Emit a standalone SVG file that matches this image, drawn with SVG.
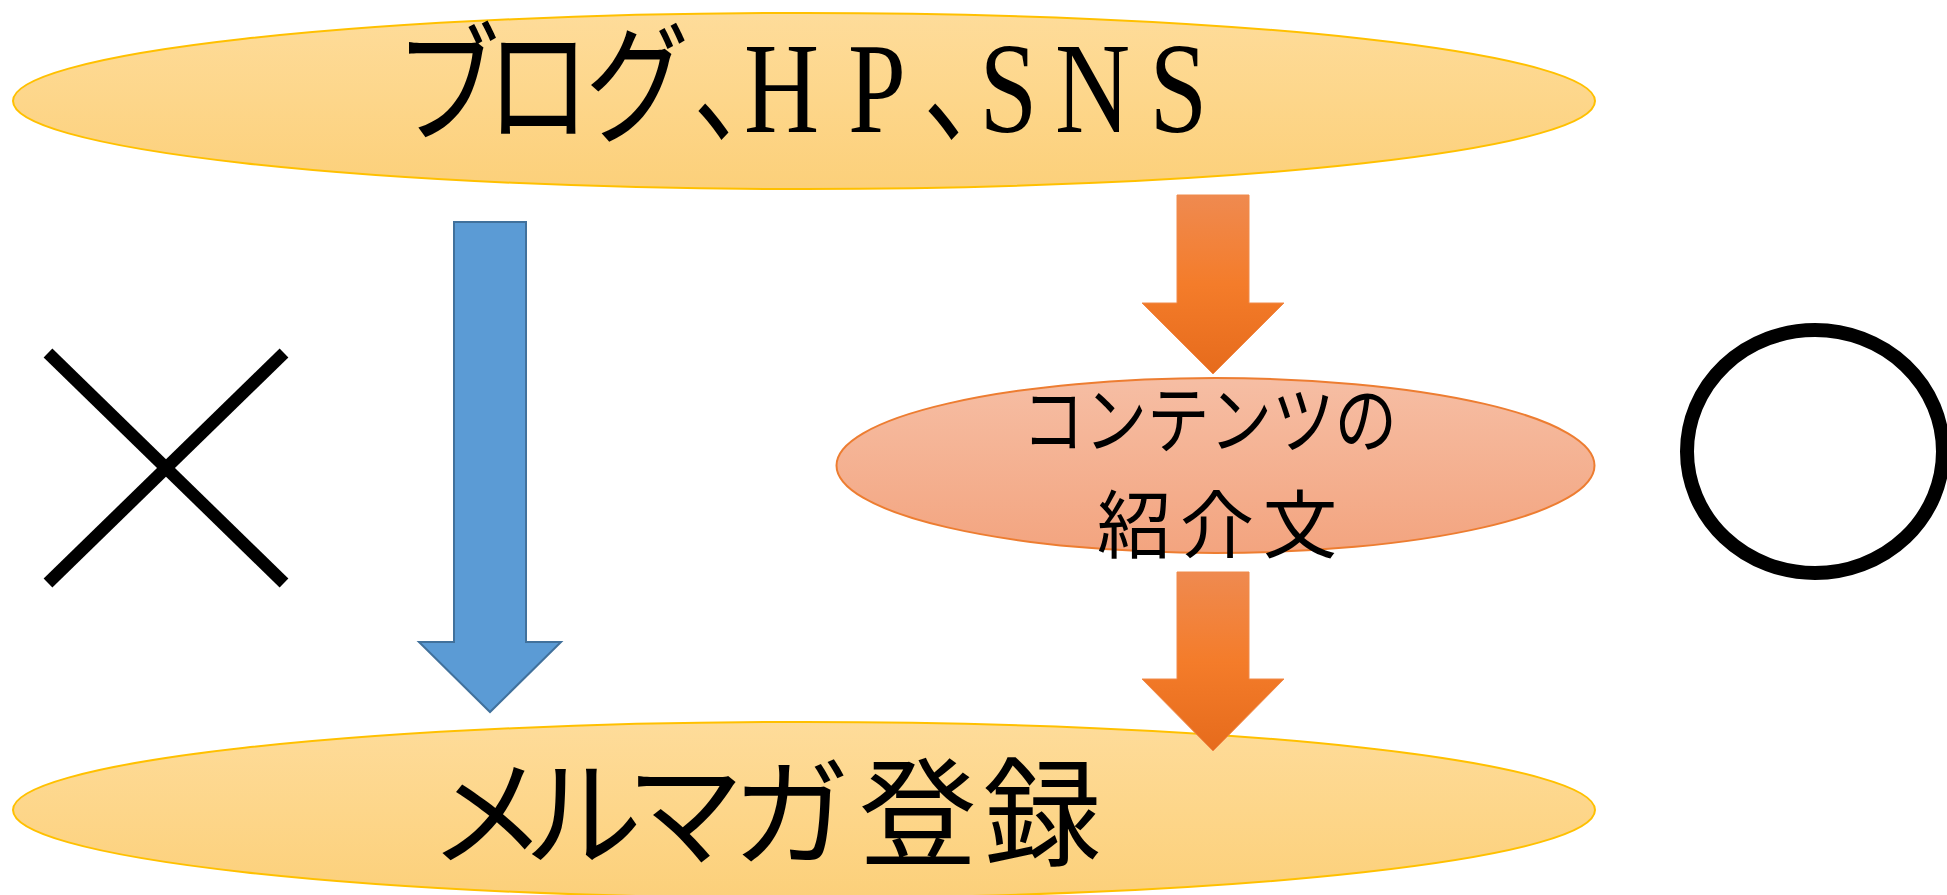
<svg xmlns="http://www.w3.org/2000/svg" width="1947" height="895" viewBox="0 0 1947 895">
<defs>
<linearGradient id="gGold" x1="0" y1="0" x2="0" y2="1">
<stop offset="0" stop-color="#FEDC9A"/>
<stop offset="1" stop-color="#FCD07A"/>
</linearGradient>
<linearGradient id="gPeach" x1="0" y1="0" x2="0" y2="1">
<stop offset="0" stop-color="#F6BEA4"/>
<stop offset="1" stop-color="#F3A47F"/>
</linearGradient>
<linearGradient id="gOrange" x1="0" y1="0" x2="0" y2="1">
<stop offset="0" stop-color="#EF8A50"/>
<stop offset="0.5" stop-color="#F47C2A"/>
<stop offset="1" stop-color="#E66B1C"/>
</linearGradient>
</defs>
<style>
.gold{fill:url(#gGold);stroke:#FFC000;stroke-width:2}
.peach{fill:url(#gPeach);stroke:#ED7D31;stroke-width:2}
.blue{fill:#5B9BD5;stroke:#41719C;stroke-width:2;stroke-linejoin:miter}
.orange{fill:url(#gOrange);stroke:#F08A4B;stroke-width:1}
.lbl{font-family:"Liberation Serif","Noto Sans CJK JP",serif;fill:#000}
.mark{fill:none;stroke:#000}
</style>

<g id="node-top">
<ellipse class="gold" cx="804" cy="101" rx="791" ry="88"/>
</g>
<g id="node-middle">
<ellipse class="peach" cx="1215.5" cy="465.5" rx="379" ry="87.5"/>
</g>
<g id="node-bottom">
<ellipse class="gold" cx="804" cy="810" rx="791" ry="88"/>
</g>

<g id="connectors">
<polygon class="blue" points="454,222 526,222 526,642 561,642 490,712 419,642 454,642"/>
<polygon class="orange" points="1177,195 1249,195 1249,303 1284,303 1213,374 1142,303 1177,303"/>
<polygon class="orange" points="1177,572 1249,572 1249,679 1284,679 1213,751 1142,679 1177,679"/>
</g>

<g id="mark-cross">
<line class="mark" x1="48" y1="353" x2="284" y2="583" stroke-width="12.5"/>
<line class="mark" x1="284" y1="353" x2="48" y2="583" stroke-width="12.5"/>
</g>
<g id="mark-circle">
<ellipse class="mark" cx="1815" cy="451.5" rx="128" ry="121.5" stroke-width="14"/>
</g>

<g id="labels">
<text class="lbl" font-size="130" transform="scale(0.8 1)" y="132" x="494.4 607.5 731.3 866.3 930 1060 1153.8 1224.4 1318.8 1436.9">ブログ、HP、SNS</text>
<text class="lbl" font-size="74" y="447" x="1022" textLength="375" lengthAdjust="spacingAndGlyphs">コンテンツの</text>
<text class="lbl" font-size="74" y="552" x="1097 1180 1263">紹介文</text>
<text class="lbl" font-size="118" y="857" x="429 524 626 732 859 983">メルマガ登録</text>
</g>
</svg>
